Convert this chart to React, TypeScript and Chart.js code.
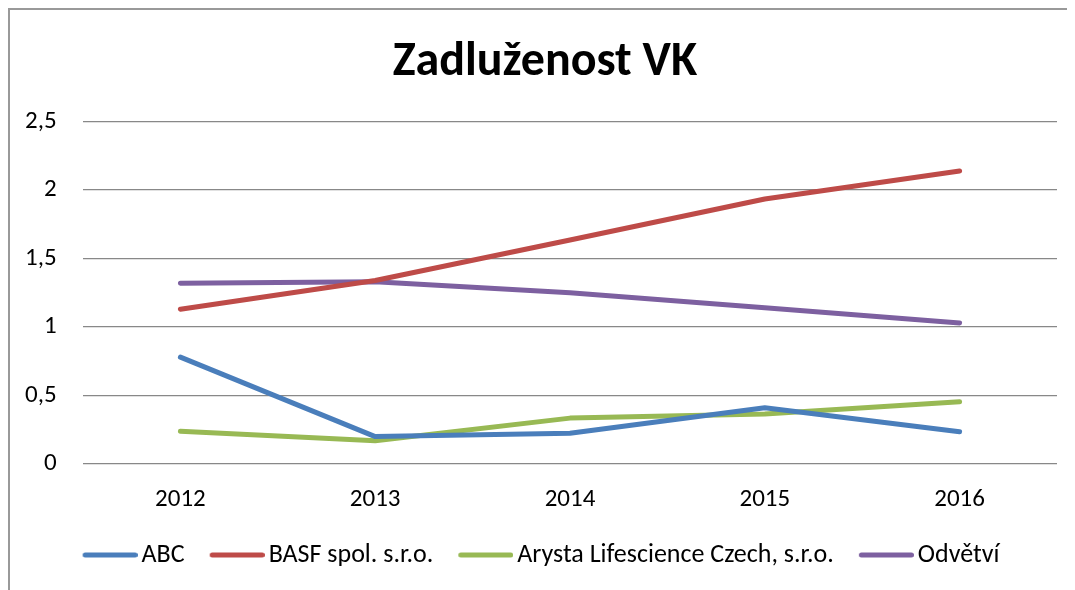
import React, { useEffect, useRef } from "react";
import { Chart, registerables } from "chart.js";

Chart.register(...registerables);

const title = "Zadluženost VK";
const categories = ["2012", "2013", "2014", "2015", "2016"];
const seriesNames = ["ABC", "BASF spol. s.r.o.", "Arysta Lifescience Czech, s.r.o.", "Odvětví"];
const abcValues = [0.78, 0.2, 0.225, 0.41, 0.235];
const basfValues = [1.13, 1.34, 1.635, 1.935, 2.14];
const arystaValues = [0.24, 0.17, 0.335, 0.365, 0.455];
const odvetviValues = [1.32, 1.33, 1.25, 1.14, 1.03];
const colors = ["#4A7EBB", "#BE4B48", "#98B954", "#7D60A0"];

const FONT = "Carlito, Lato, 'Open Sans', sans-serif";

// legend marker: a short thick line with round caps, drawn into a small canvas
function makeMarker(color: string): HTMLCanvasElement {
  const c = document.createElement("canvas");
  c.width = 56;
  c.height = 8;
  const ctx = c.getContext("2d")!;
  ctx.strokeStyle = color;
  ctx.lineWidth = 5;
  ctx.lineCap = "round";
  ctx.beginPath();
  ctx.moveTo(3.5, 4);
  ctx.lineTo(53.5, 4);
  ctx.stroke();
  return c;
}

export default function App() {
  const ref = useRef<HTMLCanvasElement | null>(null);
  useEffect(() => {
    if (!ref.current) return;
    const values = [abcValues, basfValues, arystaValues, odvetviValues];
    const chart = new Chart(ref.current, {
      type: "line",
      data: {
        labels: categories,
        datasets: seriesNames.map((name, i) => ({
          label: name,
          data: values[i],
          borderColor: colors[i],
          backgroundColor: colors[i],
          borderWidth: 5,
          borderCapStyle: "round" as const,
          borderJoinStyle: "round" as const,
          pointRadius: 0,
          pointStyle: makeMarker(colors[i]),
          tension: 0,
        })),
      },
      options: {
        responsive: false,
        animation: false,
        layout: { padding: { left: 23, right: 18, top: 0, bottom: 12 } },
        plugins: {
          title: {
            display: true,
            text: title,
            color: "#000",
            font: { family: FONT, size: 48, weight: "bold" },
            padding: { top: 24, bottom: 30 },
          },
          legend: {
            position: "bottom",
            labels: {
              usePointStyle: true,
              pointStyleWidth: 38,
              color: "#000",
              font: { family: FONT, size: 26 },
              padding: 33,
            },
          },
          tooltip: { enabled: false },
        },
        scales: {
          x: {
            offset: true,
            afterFit: (s: any) => {
              s.height = 45;
            },
            grid: { display: false },
            border: { display: false },
            ticks: { color: "#000", font: { family: FONT, size: 25 }, padding: 13 },
          },
          y: {
            min: 0,
            max: 2.5,
            afterFit: (s: any) => {
              s.width = 50;
            },
            grid: { color: "#888888", lineWidth: 1.2, drawTicks: false },
            border: { display: false },
            ticks: {
              stepSize: 0.5,
              color: "#000",
              font: { family: FONT, size: 25 },
              mirror: true,
              crossAlign: "far",
              padding: -58,
              callback: (v: any) => String(v).replace(".", ","),
            },
          },
        },
      },
    });
    return () => chart.destroy();
  }, []);
  return (
    <div
      style={{
        borderLeft: "2px solid #999",
        borderTop: "2px solid #999",
        width: 1067,
        height: 582,
        boxSizing: "border-box",
        overflow: "hidden",
        background: "#fff",
      }}
    >
      <canvas ref={ref} width={1065} height={580} style={{ display: "block" }} />
    </div>
  );
}
